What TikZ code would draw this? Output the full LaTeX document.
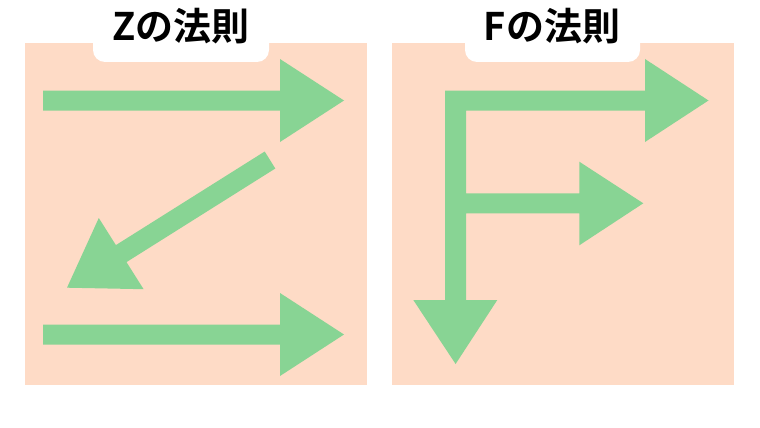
\documentclass[tikz,border=0pt]{standalone}
\usepackage{fontspec}
\newfontfamily\cjk{Noto Sans CJK JP}[BoldFont={Noto Sans CJK JP Bold}]
\definecolor{peach}{HTML}{FEDBC6}
\definecolor{leaf}{HTML}{88D494}
\begin{document}
\begin{tikzpicture}[x=1pt,y=-1pt,
  panel/.style={fill=peach,draw=none},
  tab/.style={fill=white,draw=none,rounded corners=12pt},
  title/.style={font=\cjk\bfseries\fontsize{38}{40}\selectfont,inner sep=0pt,anchor=center},
  arrowshape/.style={fill=leaf,draw=none}]
\useasboundingbox[fill=white] (0,0) rectangle (760,428);
% panels
\path[panel] (25,43) rectangle (367,385);
\path[panel] (392,43) rectangle (734,385);
% tabs
\path[tab] (93,-20) rectangle (269,62);
\path[tab] (465,-20) rectangle (640,62);
\node[title] (zt) at (181,26) {Zの法則};
\node[title] (ft) at (552,26) {Fの法則};
% Z arrows
\path[arrowshape] (43,90.5) -- (280,90.5) -- (280,59) -- (344,100.5) -- (280,142) -- (280,110.5) -- (43,110.5) -- cycle;
\path[arrowshape] (275.3,168.5) -- (264.7,151.5) -- (115.9,245.1) -- (98.8,218.0) -- (67,287.7) -- (143.6,289.2) -- (126.5,262.1) -- cycle;
\path[arrowshape] (43,324.5) -- (280,324.5) -- (280,293) -- (344,334.5) -- (280,376) -- (280,344.5) -- (43,344.5) -- cycle;
% F arrows
\path[arrowshape] (445,90.5) -- (645,90.5) -- (645,59) -- (708.5,100.5) -- (645,142) -- (645,110.5)
  -- (466,110.5) -- (466,193.3) -- (579.3,193.3) -- (579.3,161.7) -- (643.3,203.3) -- (579.3,245.3) -- (579.3,213.3)
  -- (466,213.3) -- (466,300) -- (497.3,300) -- (455.6,364) -- (413.3,300) -- (445,300) -- cycle;
\end{tikzpicture}
\end{document}
